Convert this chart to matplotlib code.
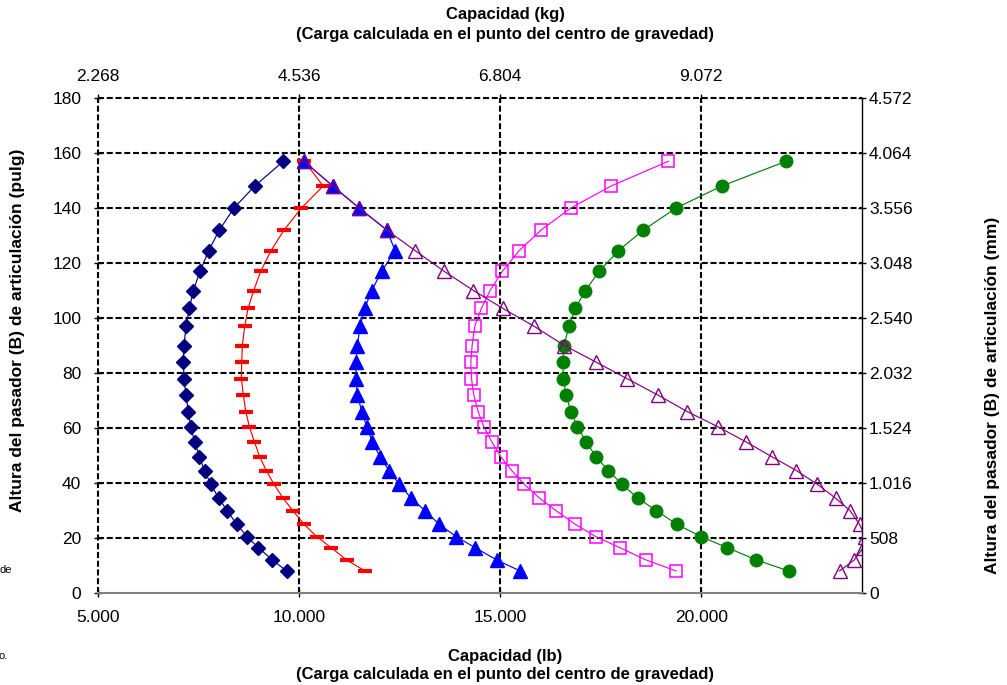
import numpy as np
import matplotlib
matplotlib.use("Agg")
from matplotlib import pyplot as plt
from matplotlib.ticker import FuncFormatter

plt.rcParams['font.family'] = ['Liberation Sans', 'DejaVu Sans']

# pin height (pulg), shared by every series
altura = [157, 148, 140, 132, 124.5, 117, 110, 103.5, 97, 90, 84, 78, 72, 66,
          60.5, 55, 49.5, 44.5, 39.5, 34.5, 30, 25, 20.5, 16.5, 12, 8]

# capacity (lb) for each series
s_navy = [9610, 8898, 8383, 8018, 7753, 7537, 7371, 7272, 7189, 7139, 7122, 7139, 7189,
          7247, 7305, 7405, 7520, 7654, 7803, 8003, 8209, 8450, 8707, 8988, 9336, 9694]
s_red = [10133, 10600, 10058, 9627, 9304, 9047, 8873, 8731, 8649, 8590, 8574, 8565, 8615,
         8674, 8764, 8889, 9022, 9187, 9378, 9602, 9843, 10124, 10440, 10796, 11186, 11642]
s_blue = [10124, 10838, 11493, 12182, 12388, 12057, 11808, 11634, 11517, 11450, 11418, 11418, 11450,
          11560, 11684, 11823, 12015, 12239, 12495, 12786, 13127, 13483, 13906, 14378, 14918, 15498]
s_magenta = [19187, 17761, 16759, 16020, 15473, 15058, 14751, 14535, 14371, 14304, 14271, 14288, 14346,
             14453, 14594, 14793, 15017, 15291, 15605, 15978, 16386, 16866, 17381, 17978, 18632, 19378]
s_green = [22115, 20514, 19378, 18565, 17943, 17463, 17122, 16873, 16709, 16592, 16559, 16575, 16642,
           16759, 16923, 17139, 17388, 17694, 18035, 18425, 18880, 19395, 19992, 20647, 21376, 22181]
s_purple = [10124, 10838, 11493, 12182, 12886, 13607, 14337, 15067, 15846, 16600, 17381, 18151, 18921,
            19650, 20410, 21110, 21765, 22370, 22893, 23341, 23699, 23938, 24080, 24030, 23806, 23441]

x_ticks = [5000, 10000, 15000, 20000]
y_ticks = [0, 20, 40, 60, 80, 100, 120, 140, 160, 180]
LB_TO_KG = 0.45359237
IN_TO_MM = 25.4


def dot(v):
    # thousands separator as a dot, like the original
    return f"{v:,.0f}".replace(",", ".")


W, H = 1007, 685
fig = plt.figure(figsize=(W / 100, H / 100), dpi=100)
ax = fig.add_axes([98 / W, 1 - 593 / H, (862 - 98) / W, (593 - 98) / H])

lw = 0.85
ax.plot(s_navy, altura, color='#000080', lw=lw, marker='D', ms=7, zorder=3)
ax.plot(s_red, altura, color='#FF0000', lw=lw, marker='_', ms=9.5, mew=3, zorder=3)
ax.plot(s_blue, altura, color='#0000FF', lw=lw, marker='^', ms=9.5, zorder=3)
ax.plot(s_magenta, altura, color='#FF00FF', lw=lw, marker='s', ms=9, mfc='none', mew=1.1, zorder=3)
ax.plot(s_green, altura, color='#008000', lw=lw, marker='o', ms=9, zorder=3)
ax.plot(s_purple, altura, color='#800080', lw=lw, marker='^', ms=9.5, mfc='none', mew=1.0, zorder=3)

ax.set_xlim(5000, 24000)
ax.set_ylim(0, 180)
ax.set_xticks(x_ticks)
ax.set_yticks(y_ticks)
ax.xaxis.set_major_formatter(FuncFormatter(lambda v, p: dot(v)))

grid_style = dict(color='black', lw=1.5, linestyle=(0, (2.9, 1.3)))
for gx in x_ticks[1:]:
    ax.axvline(gx, zorder=1, **grid_style)
for gy in y_ticks[1:-1]:
    ax.axhline(gy, zorder=1, **grid_style)
ax.axvline(5000, clip_on=False, zorder=1, **grid_style)
ax.axhline(180, clip_on=False, zorder=1, **grid_style)

ax.spines['top'].set_visible(False)
ax.spines['left'].set_visible(False)
ax.spines['bottom'].set_color('#808080')
ax.spines['bottom'].set_linewidth(1.5)
ax.spines['right'].set_color('black')
ax.spines['right'].set_linewidth(1.0)

ax.tick_params(axis='x', direction='inout', length=6, width=1, labelsize=12.5, pad=9)
ax.tick_params(axis='y', direction='inout', length=6, width=1, labelsize=12.5, pad=9)

secx = ax.secondary_xaxis('top')
secx.set_xticks(x_ticks)
secx.xaxis.set_major_formatter(FuncFormatter(lambda v, p: dot(v * LB_TO_KG)))
secx.spines['top'].set_visible(False)
secx.tick_params(direction='inout', length=6, width=1, labelsize=12.5, pad=7)

secy = ax.secondary_yaxis('right')
secy.set_yticks(y_ticks)
secy.yaxis.set_major_formatter(FuncFormatter(lambda v, p: dot(v * IN_TO_MM)))
secy.spines['right'].set_visible(False)
secy.tick_params(direction='inout', length=6, width=1, labelsize=12.5, pad=2)

bold = dict(fontsize=12, fontweight='bold', ha='center', va='center')
fig.text(505 / W, 1 - 15 / H, 'Capacidad (kg)', **bold)
fig.text(505 / W, 1 - 34 / H, '(Carga calculada en el punto del centro de gravedad)', **bold)
fig.text(505 / W, 1 - 656 / H, 'Capacidad (lb)', **bold)
fig.text(505 / W, 1 - 675 / H, '(Carga calculada en el punto del centro de gravedad)', **bold)
fig.text(18 / W, 1 - 330 / H, 'Altura del pasador (B) de articulación (pulg)', rotation=90,
         **{**bold, 'fontsize': 12.5})
fig.text(993 / W, 1 - 395 / H, 'Altura del pasador (B) de articulación (mm)', rotation=90,
         **{**bold, 'fontsize': 12.5})

# clipped fragments of text at the left edge
fig.text(12 / W, 1 - 570 / H, 'de', fontsize=8, ha='right', va='center')
fig.text(8 / W, 1 - 656 / H, 'o.', fontsize=8, ha='right', va='center')

fig.savefig('out.png', dpi=100)
